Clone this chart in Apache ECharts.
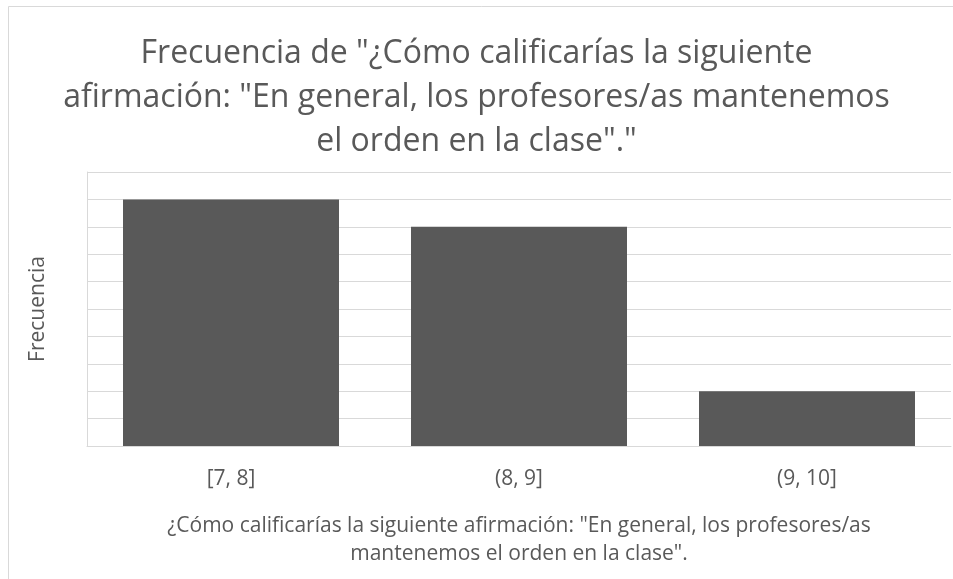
<!DOCTYPE html>
<html>
<head>
<meta charset="utf-8">
<script src="https://cdn.jsdelivr.net/npm/echarts@6/dist/echarts.min.js"></script>
<style>
html,body{margin:0;padding:0;background:#fff;}
#c{width:953px;height:579px;}
</style>
</head>
<body>
<div id="c"></div>
<script>
const categories = ['[7, 8]', '(8, 9]', '(9, 10]'];
const frecuencia = [9, 8, 2];
const titleLines = ['Frecuencia de "¿Cómo calificarías la siguiente', 'afirmación: "En general, los profesores/as mantenemos', 'el orden en la clase"."'];
const xAxisTitle = ['¿Cómo calificarías la siguiente afirmación: "En general, los profesores/as', 'mantenemos el orden en la clase".'];
const yAxisTitle = 'Frecuencia';

const chart = echarts.init(document.getElementById('c'));
const FONT = '"Open Sans", "Noto Sans", sans-serif';
chart.setOption({
  animation: false,
  backgroundColor: '#fff',
  graphic: [{
    type: 'rect', silent: true,
    shape: {x: 8.5, y: 6.5, width: 1000, height: 700},
    style: {fill: 'none', stroke: '#d9d9d9', lineWidth: 1}
  }],
  title: {
    text: titleLines.join('\n'),
    left: 'center', top: 27,
    textStyle: {fontFamily: FONT, fontSize: 32, fontWeight: 'normal', color: '#595959', lineHeight: 44}
  },
  grid: {left: 87, right: 2, top: 172, bottom: 133, containLabel: false},
  xAxis: {
    type: 'category', data: categories,
    axisLine: {show: true, lineStyle: {color: '#d9d9d9'}},
    axisTick: {show: false},
    axisLabel: {fontFamily: FONT, fontSize: 21, color: '#595959', margin: 23},
    name: xAxisTitle.join('\n'), nameLocation: 'middle', nameGap: 66,
    nameTextStyle: {fontFamily: FONT, fontSize: 21, color: '#595959', lineHeight: 28}
  },
  yAxis: {
    type: 'value', min: 0, max: 10, interval: 1,
    axisLine: {show: true, lineStyle: {color: '#d9d9d9'}},
    axisTick: {show: false},
    axisLabel: {show: false},
    splitLine: {lineStyle: {color: '#d9d9d9', width: 1}},
    name: yAxisTitle, nameLocation: 'middle', nameGap: 38, nameRotate: 90,
    nameTextStyle: {fontFamily: FONT, fontSize: 21, color: '#595959'}
  },
  series: [{
    type: 'bar', data: frecuencia,
    barCategoryGap: '25%',
    itemStyle: {color: '#595959'}
  }]
});
</script>
</body>
</html>
